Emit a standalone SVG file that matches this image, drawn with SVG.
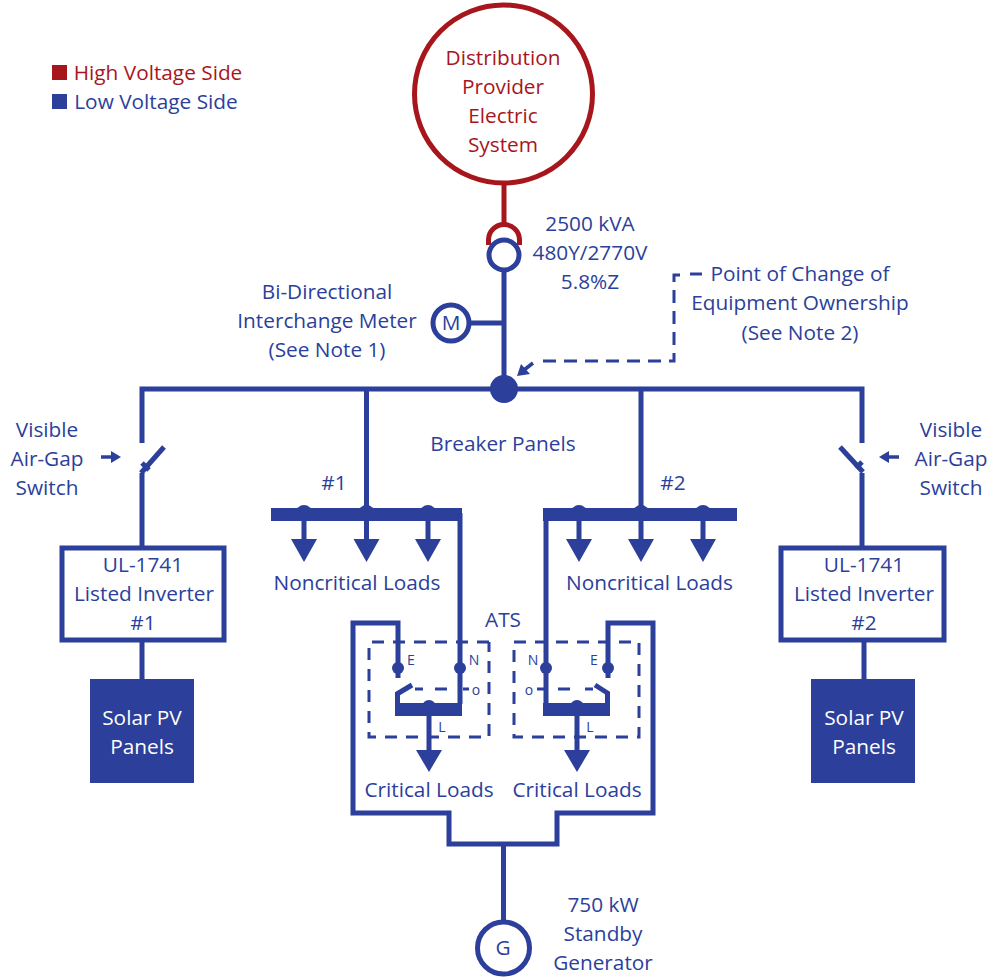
<svg xmlns="http://www.w3.org/2000/svg" width="992" height="977" viewBox="0 0 992 977">
<defs>
<style>
text{font-family:"Open Sans","Noto Sans","Liberation Sans",sans-serif;font-size:20.8px;fill:#2b3f9b;text-anchor:middle}
.r{fill:#a8161d}
.w{fill:#fff}
.s{font-size:14px}
.l{fill:none;stroke:#2b3f9b;stroke-width:5}
.t{fill:none;stroke:#2b3f9b;stroke-width:4}
.d{fill:none;stroke:#2b3f9b;stroke-width:3;stroke-dasharray:12 9}
.f{fill:#2b3f9b}
.h{fill:none;stroke:#a8161d;stroke-width:5}
.b{fill:#fff;stroke:#2b3f9b;stroke-width:5}
</style>
</defs>
<g id="connectors">
<path class="h" d="M504 180V226"/>
<path class="h" d="M488.500 245V240A15.500 15.500 0 0 1 519.500 240V245"/>
<path class="l" d="M504 270V389"/>
<path class="l" d="M469 323H504" stroke-width="4.500"/>
<path class="l" d="M142 443V389H862V443"/>
<path class="l" d="M142 473V548"/>
<path class="l" d="M862 473V548"/>
<path class="l" d="M141 473L164 447"/>
<path class="l" d="M863 472L840 447"/>
<path class="l" d="M142 463L149 470"/>
<path class="l" d="M862 462L856 468"/>
<path class="l" d="M366.500 389V513"/>
<path class="l" d="M641 389V513"/>
<path class="l" d="M142 640V680"/>
<path class="l" d="M864 640V680"/>
<path class="f" d="M271 508H462V521H271Z"/>
<path class="f" d="M543 508H737V521H543Z"/>
<path class="l" d="M460 513V704"/>
<path class="l" d="M546 513V704"/>
<path class="l" d="M304 513V545M366.500 513V545M428 513V545M579 513V545M641 513V545M703 513V545"/>
<path class="f" d="M291 539H317L304 562ZM353.500 539H379.500L366.500 562ZM415 539H441L428 562ZM566 539H592L579 562ZM628 539H654L641 562ZM690 539H716L703 562Z"/>
<path class="l" d="M398 678V623H353V813H449V844H557V813H653V623H608V678"/>
<path class="l" d="M503.500 844V925"/>
<path class="d" d="M489 642H369V737H489V642"/>
<path class="d" d="M514 642H639V737H514V642"/>
<path class="d" d="M415 689H423M435 689H449M463 689H469" stroke-dasharray="none"/>
<path class="d" d="M537 689H545M558 689H572M585 689H593" stroke-dasharray="none"/>
<path class="l" d="M397 694L412 685"/>
<path class="l" d="M609 694L595 685"/>
<path class="f" d="M395 703H462V716H395ZM543 703H610V716H543Z"/>
<path class="l" d="M397.500 703V692M607.500 703V692"/>
<path class="l" d="M429 708V755M577 708V755"/>
<path class="f" d="M416 750H442L429 772ZM564 750H590L577 772Z"/>
<path fill="none" stroke="#2b3f9b" stroke-width="3" stroke-dasharray="13 8" d="M543 361H674V275H681"/>
<path fill="none" stroke="#2b3f9b" stroke-width="3" d="M690 274H702"/>
<path fill="none" stroke="#2b3f9b" stroke-width="3.500" d="M533 363L524 370"/>
<path class="f" d="M517 376L521 364L530 374Z"/>
<path fill="none" stroke="#2b3f9b" stroke-width="3.500" d="M101 457H113"/>
<path class="f" d="M121 457L111 451V463Z"/>
<path fill="none" stroke="#2b3f9b" stroke-width="3.500" d="M899 457H887"/>
<path class="f" d="M879 457L889 451V463Z"/>
</g>
<g id="legend">
<rect x="52" y="65" width="15" height="15" fill="#a8161d"/>
<rect x="52" y="94" width="15" height="15" class="f"/>
<text x="158" y="80" class="r">High Voltage Side</text>
<text x="156" y="109">Low Voltage Side</text>
</g>
<g id="distribution">
<circle cx="503.500" cy="94" r="89" fill="#fff" stroke="#a8161d" stroke-width="5"/>
<text x="503" y="65" class="r">Distribution</text>
<text x="503" y="94" class="r">Provider</text>
<text x="503" y="123" class="r">Electric</text>
<text x="503" y="152" class="r">System</text>
</g>
<g id="transformer">
<circle cx="504" cy="255" r="15" class="b"/>
<text x="590" y="231">2500 kVA</text>
<text x="590" y="260">480Y/2770V</text>
<text x="590" y="289">5.8%Z</text>
</g>
<g id="meter">
<circle cx="451" cy="323" r="18" class="b" stroke-width="4.500"/>
<text x="451" y="330">M</text>
<text x="327" y="299">Bi-Directional</text>
<text x="327" y="328">Interchange Meter</text>
<text x="327" y="357">(See Note 1)</text>
</g>
<g id="bus"><circle cx="504" cy="389" r="14" class="f"/></g>
<g id="ownership">
<text x="800" y="281">Point of Change of</text>
<text x="800" y="310">Equipment Ownership</text>
<text x="800" y="340">(See Note 2)</text>
</g>
<g id="switch-left">
<text x="47" y="437">Visible</text>
<text x="47" y="466">Air-Gap</text>
<text x="47" y="495">Switch</text>
</g>
<g id="switch-right">
<text x="951" y="437">Visible</text>
<text x="951" y="466">Air-Gap</text>
<text x="951" y="495">Switch</text>
</g>
<g id="panels">
<text x="503" y="451">Breaker Panels</text>
<text x="334" y="490">#1</text>
<text x="673" y="490">#2</text>
<circle cx="304" cy="513" r="8" class="f"/><circle cx="366.500" cy="513" r="8" class="f"/><circle cx="428" cy="513" r="8" class="f"/>
<circle cx="579" cy="513" r="8" class="f"/><circle cx="641" cy="513" r="8" class="f"/><circle cx="703" cy="513" r="8" class="f"/>
<text x="357" y="590">Noncritical Loads</text>
<text x="649.500" y="590">Noncritical Loads</text>
</g>
<g id="inverter-1">
<rect x="62" y="548" width="162" height="92" class="b"/>
<text x="143" y="572">UL-1741</text>
<text x="144" y="601">Listed Inverter</text>
<text x="143" y="630">#1</text>
</g>
<g id="inverter-2">
<rect x="781" y="548" width="163" height="92" class="b"/>
<text x="864" y="572">UL-1741</text>
<text x="864" y="601">Listed Inverter</text>
<text x="864" y="630">#2</text>
</g>
<g id="pv-1">
<rect x="90" y="679" width="104" height="104" class="f"/>
<text x="142" y="725" class="w">Solar PV</text>
<text x="142" y="754" class="w">Panels</text>
</g>
<g id="pv-2">
<rect x="811" y="679" width="104" height="104" class="f"/>
<text x="864" y="725" class="w">Solar PV</text>
<text x="864" y="754" class="w">Panels</text>
</g>
<g id="ats">
<text x="503" y="627">ATS</text>
<circle cx="398" cy="668" r="6" class="f"/><circle cx="460" cy="668" r="6" class="f"/>
<circle cx="546" cy="668" r="6" class="f"/><circle cx="608" cy="668" r="6" class="f"/>
<circle cx="429" cy="707" r="7" class="f"/><circle cx="577" cy="707" r="7" class="f"/>
<text x="411" y="665" class="s">E</text><text x="474" y="665" class="s">N</text><text x="476" y="695" class="s">o</text><text x="442" y="732" class="s">L</text>
<text x="533" y="665" class="s">N</text><text x="594" y="665" class="s">E</text><text x="529" y="695" class="s">o</text><text x="590" y="732" class="s">L</text>
<text x="429" y="797">Critical Loads</text>
<text x="577" y="797">Critical Loads</text>
</g>
<g id="generator">
<circle cx="503.500" cy="948" r="26" class="b"/>
<text x="503" y="955">G</text>
<text x="603" y="912">750 kW</text>
<text x="603" y="941">Standby</text>
<text x="603" y="970">Generator</text>
</g>
</svg>
